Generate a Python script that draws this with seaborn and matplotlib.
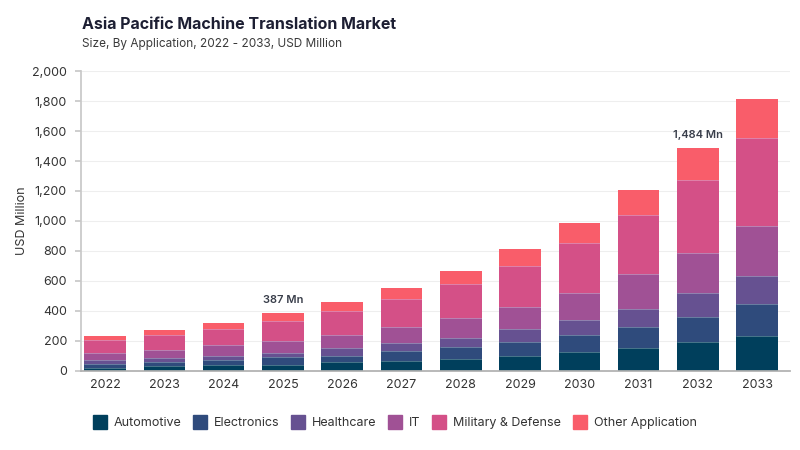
import matplotlib
matplotlib.use("Agg")
import matplotlib.pyplot as plt
from matplotlib.lines import Line2D
from matplotlib.ticker import FuncFormatter
import seaborn as sns
import numpy as np
import pandas as pd

years = ["2022", "2023", "2024", "2025", "2026", "2027",
         "2028", "2029", "2030", "2031", "2032", "2033"]
applications = ["Automotive", "Electronics", "Healthcare", "IT",
                "Military & Defense", "Other Application"]

automotive = [22, 29, 36, 42, 58, 67, 82, 102, 124, 149, 189, 231]
electronics = [25, 31, 33, 47, 44, 62, 74, 91, 112, 146, 173, 218]
healthcare = [22, 24, 33, 33, 47, 55, 66, 83, 100, 120, 156, 186]
it = [47, 58, 67, 78, 93, 107, 131, 153, 186, 229, 271, 334]
military = [88, 94, 111, 133, 154, 187, 225, 273, 329, 396, 484, 587]
other = [27, 33, 40, 54, 62, 73, 91, 109, 138, 167, 211, 255]

annotated = {"2025": "387 Mn", "2032": "1,484 Mn"}

colors = ["#003f5c", "#2f4b7c", "#665191", "#a05195", "#d45087", "#f95d6a"]

sns.set_theme(style="white")
plt.rcParams["font.family"] = ["Inter", "DejaVu Sans"]

df = pd.DataFrame({"year": years})
series = [automotive, electronics, healthcare, it, military, other]
for name, vals in zip(applications, series):
    df[name] = vals
cum = df[applications].cumsum(axis=1)

fig = plt.figure(figsize=(8, 4.5), dpi=100)
ax = fig.add_axes([0.101, 0.176, 0.887, 0.666])

# draw from the top segment down so each lower stack covers the one above
for name, c in reversed(list(zip(applications, colors))):
    sns.barplot(x=df["year"], y=cum[name], color=c, width=0.7,
                ax=ax, saturation=1, edgecolor=c, linewidth=0)

# thin light separators between segments
for name in applications[:-1]:
    for i, v in enumerate(cum[name]):
        ax.plot([i - 0.35, i + 0.35], [v, v], color="white", lw=0.4, alpha=0.5, zorder=3)

totals = cum[applications[-1]]
for i, y in enumerate(years):
    if y in annotated:
        ax.text(i, totals[i] + 55, annotated[y], ha="center", va="bottom",
                fontsize=8, fontweight="semibold", color="#3a3f4b")

ax.set_ylim(0, 2000)
ax.set_xlim(-0.41, 11.56)
ax.set_yticks(np.arange(0, 2001, 200))
ax.yaxis.set_major_formatter(FuncFormatter(lambda v, p: f"{int(v):,}"))
ax.grid(axis="y", color="#eeeeee", lw=0.8)
ax.set_axisbelow(True)
for s in ["top", "right"]:
    ax.spines[s].set_visible(False)
ax.spines["left"].set_color("#c8c8c8")
ax.spines["bottom"].set_color("#b0b0b0")
ax.tick_params(axis="both", labelsize=9, colors="#333333", length=0, pad=6)
ax.tick_params(axis="y", left=True, length=4, color="#c8c8c8")
ax.set_xlabel("")
ax.set_ylabel("USD Million", fontsize=9, color="#333333", labelpad=3)

fig.text(0.1025, 0.935, "Asia Pacific Machine Translation Market",
         fontsize=11.5, fontweight="bold", color="#1d1f33")
fig.text(0.1025, 0.895, "Size, By Application, 2022 - 2033, USD Million",
         fontsize=8.5, color="#3a3a3a")

handles = [Line2D([0], [0], marker="s", linestyle="", markersize=10,
                  markerfacecolor=c, markeredgecolor=c) for c in colors]
fig.legend(handles, applications, loc="center", bbox_to_anchor=(0.494, 0.06),
           ncol=6, frameon=False, fontsize=9, handlelength=1.0,
           handletextpad=0.6, columnspacing=1.0, labelcolor="#333333")

fig.savefig("out.png", dpi=100)
